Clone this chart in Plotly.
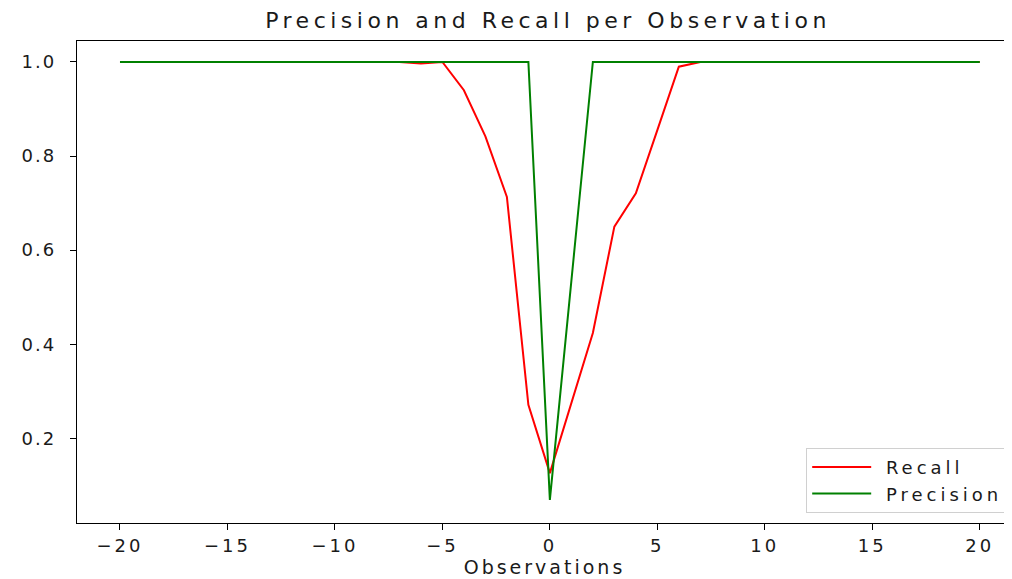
import plotly.graph_objects as go

observations = list(range(-20, 21))
recall = ([1.0] * 14
          + [0.997, 1.0, 0.94, 0.842, 0.713, 0.271, 0.126, 0.275, 0.424, 0.65, 0.721, 0.855, 0.99]
          + [1.0] * 14)
precision = [1.0] * 20 + [0.069, 0.53] + [1.0] * 19

x_tick_values = [-20, -15, -10, -5, 0, 5, 10, 15, 20]
x_tick_labels = ["\u221220", "\u221215", "\u221210", "\u22125", "0", "5", "10", "15", "20"]
y_tick_values = [0.2, 0.4, 0.6, 0.8, 1.0]
y_tick_labels = ["0.2", "0.4", "0.6", "0.8", "1.0"]

font = "DejaVu Sans"
ink = "#1a1a1a"


def spaced(text, px):
    return '<span style="letter-spacing:%.1fpx">%s</span>' % (px, text)


fig = go.Figure()
fig.add_trace(go.Scatter(x=observations, y=recall, mode="lines",
                         name=spaced("\u00a0Recall", 4),
                         legendgroup="r", line=dict(color="#ff0000", width=2)))
fig.add_trace(go.Scatter(x=observations, y=precision, mode="lines",
                         name=spaced("\u00a0Precision", 4),
                         legendgroup="p", line=dict(color="#008000", width=2)))

fig.update_layout(
    width=1004, height=571,
    margin=dict(l=69, r=0, t=33, b=56, autoexpand=False),
    paper_bgcolor="white", plot_bgcolor="white",
    font=dict(family=font, size=18, color=ink),
    title=dict(text=spaced("Precision and Recall per Observation", 4.5),
               x=540 / 1004, xanchor="center", y=1 - 12 / 571, yanchor="middle",
               font=dict(size=22, family=font, color=ink)),
    showlegend=True,
    legend=dict(x=0.997, y=0.021, xanchor="right", yanchor="bottom",
                bordercolor="#d0d0d0", borderwidth=1, bgcolor="rgba(255,255,255,0.8)",
                font=dict(size=18, family=font, color=ink), traceorder="grouped",
                tracegroupgap=0, itemwidth=59),
)
fig.update_xaxes(range=[-22.0, 21.5], tickvals=x_tick_values,
                 ticktext=[spaced(t, 3) for t in x_tick_labels],
                 showgrid=False, zeroline=False, showline=True, linecolor="black", linewidth=1.3,
                 mirror=True, ticks="outside", ticklen=6, tickcolor="black", tickwidth=1.3,
                 title=dict(text=spaced("Observations", 3), standoff=2,
                            font=dict(size=19, family=font, color=ink)),
                 tickfont=dict(size=18), automargin=False)
fig.update_yaxes(range=[0.020, 1.0446], tickvals=y_tick_values,
                 ticktext=[spaced(t, 2) for t in y_tick_labels],
                 showgrid=False, zeroline=False, showline=True, linecolor="black", linewidth=1.3,
                 mirror=False, ticks="outside", ticklen=6, tickcolor="black", tickwidth=1.3,
                 ticklabelstandoff=10, tickfont=dict(size=18), automargin=False)

fig.write_html("out.html")
